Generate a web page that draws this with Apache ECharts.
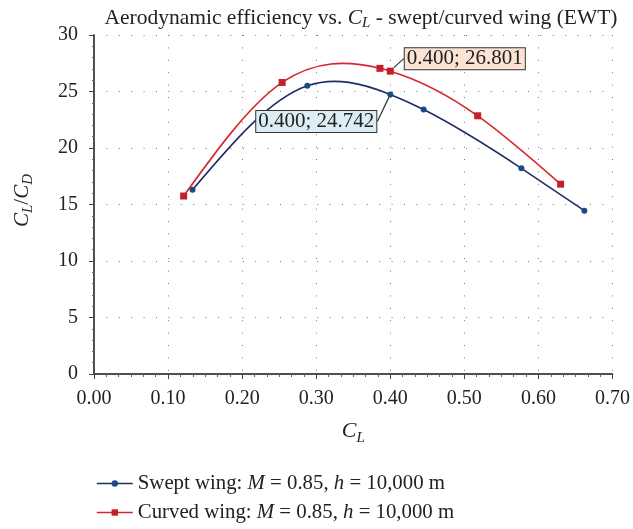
<!DOCTYPE html>
<html>
<head>
<meta charset="utf-8">
<script src="https://cdn.jsdelivr.net/npm/echarts@6/dist/echarts.min.js"></script>
<style>html,body{margin:0;padding:0;background:#fff}#c{width:633px;height:529px}</style>
</head>
<body>
<div id="c"></div>
<script>
var sweptCL = [0.133, 0.288, 0.400, 0.445, 0.577, 0.662];
var sweptEff = [16.3, 25.5, 24.742, 23.4, 18.2, 14.45];
var curvedCL = [0.121, 0.254, 0.386, 0.400, 0.518, 0.630];
var curvedEff = [15.75, 25.8, 27.05, 26.801, 22.85, 16.8];
var xTicks = [0, 0.1, 0.2, 0.3, 0.4, 0.5, 0.6, 0.7];
var yTicks = [0, 5, 10, 15, 20, 25, 30];
var seriesNames = ['Swept wing', 'Curved wing'];

var FONT = 'Liberation Serif';
var SWEPT_LINE = '#1f2d66', CURVED_LINE = '#d6262e';
var chart = echarts.init(document.getElementById('c'), null, {renderer: 'canvas'});

function buildData(xs, ys, labelX, bg) {
  return xs.map(function (x, i) {
    var item = {value: [x, ys[i]]};
    if (x === labelX) {
      item.label = {
        show: true,
        formatter: function (p) { return p.value[0].toFixed(3) + '; ' + p.value[1].toFixed(3); },
        backgroundColor: bg,
        borderColor: '#333',
        borderWidth: 1,
        padding: [1, 2, 0, 2],
        lineHeight: 20,
        color: '#222',
        fontFamily: FONT,
        fontSize: 21
      };
    }
    return item;
  });
}

// knot slopes of a natural cubic spline y(x) through the data
function splineSlopes(xs, ys) {
  var n = xs.length - 1, h = [], M = [], i;
  for (i = 0; i < n; i++) h.push(xs[i + 1] - xs[i]);
  var a = [], b = [], c = [], r = [];
  for (i = 1; i < n; i++) {
    a.push(h[i - 1]); b.push(2 * (h[i - 1] + h[i])); c.push(h[i]);
    r.push(6 * ((ys[i + 1] - ys[i]) / h[i] - (ys[i] - ys[i - 1]) / h[i - 1]));
  }
  var k = b.length;
  for (i = 1; i < k; i++) {
    var w = a[i] / b[i - 1];
    b[i] -= w * c[i - 1]; r[i] -= w * r[i - 1];
  }
  var inner = new Array(k);
  for (i = k - 1; i >= 0; i--) inner[i] = (r[i] - (i < k - 1 ? c[i] * inner[i + 1] : 0)) / b[i];
  M = [0].concat(inner, [0]);
  var m = [];
  for (i = 0; i < n; i++) m.push((ys[i + 1] - ys[i]) / h[i] - h[i] * (2 * M[i] + M[i + 1]) / 6);
  m.push((ys[n] - ys[n - 1]) / h[n - 1] + h[n - 1] * (M[n - 1] + 2 * M[n]) / 6);
  return m;
}

// Spline drawn exactly as cubic Bezier segments, mapped through the axes' coord conversion
function curveSeries(xs, ys, color) {
  var m = splineSlopes(xs, ys);
  return {
    type: 'custom', silent: true, z: 2,
    data: [[xs[0], ys[0]]],
    renderItem: function (params, api) {
      var children = [];
      for (var j = 0; j < xs.length - 1; j++) {
        var hh = (xs[j + 1] - xs[j]) / 3;
        var p0 = api.coord([xs[j], ys[j]]);
        var c1 = api.coord([xs[j] + hh, ys[j] + m[j] * hh]);
        var c2 = api.coord([xs[j + 1] - hh, ys[j + 1] - m[j + 1] * hh]);
        var p1 = api.coord([xs[j + 1], ys[j + 1]]);
        children.push({
          type: 'bezierCurve',
          shape: {x1: p0[0], y1: p0[1], x2: p1[0], y2: p1[1],
            cpx1: c1[0], cpy1: c1[1], cpx2: c2[0], cpy2: c2[1]},
          style: {stroke: color, lineWidth: 1.6, fill: null}
        });
      }
      return {type: 'group', children: children};
    }
  };
}

var frameLine = {show: true, lineStyle: {color: '#444', width: 1.5}};
var gridLine = {show: true, lineStyle: {color: '#777', width: 1, type: [1, 11.4]}};

var option = {
  backgroundColor: '#fff',
  animation: false,
  title: {
    text: '{t|Aerodynamic efficiency vs. }{i|C}{s|L}{t| - swept/curved wing (EWT)}',
    left: 356, top: 0, textAlign: 'center',
    textStyle: {
      rich: {
        t: {fontFamily: FONT, fontSize: 21.5, fontWeight: 'normal', color: '#222'},
        i: {fontFamily: FONT, fontSize: 21.5, fontWeight: 'normal', fontStyle: 'italic', color: '#222'},
        s: {fontFamily: FONT, fontSize: 15, fontWeight: 'normal', fontStyle: 'italic', color: '#222', padding: [11, 0, 0, 0]}
      }
    }
  },
  grid: {left: 94, right: 17, top: 35, bottom: 155, containLabel: false},
  legend: {
    orient: 'vertical', left: 94, top: 471, itemGap: 8, itemWidth: 36, itemHeight: 8,
    padding: 2,
    data: [
      {name: seriesNames[0], lineStyle: {color: SWEPT_LINE, width: 1.6, opacity: 1}},
      {name: seriesNames[1], lineStyle: {color: CURVED_LINE, width: 1.6, opacity: 1}}
    ],
    formatter: function (n) {
      var a = n === 'Swept wing' ? 'Swept wing: ' : 'Curved wing: ';
      return '{t|' + a + '}{i|M}{t| = 0.85, }{i|h}{t| = 10,000 m}';
    },
    textStyle: {
      rich: {
        t: {fontFamily: FONT, fontSize: 20.8, lineHeight: 24, color: '#222'},
        i: {fontFamily: FONT, fontSize: 20.8, lineHeight: 24, fontStyle: 'italic', color: '#222'}
      }
    }
  },
  xAxis: [{
    type: 'value', min: 0, max: 0.7, interval: 0.1,
    name: '{i|C}{s|L}', nameLocation: 'middle', nameGap: 43, nameMoveOverlap: false,
    nameTextStyle: {rich: {
      i: {fontFamily: FONT, fontSize: 22, fontStyle: 'italic', color: '#222'},
      s: {fontFamily: FONT, fontSize: 15, fontStyle: 'italic', color: '#222', padding: [14, 0, 0, 0]}
    }},
    axisLine: frameLine,
    axisTick: {show: true, inside: false, length: 5, lineStyle: {color: '#444'}},
    minorTick: {show: true, splitNumber: 6, length: 3, lineStyle: {color: '#666'}},
    axisLabel: {fontFamily: FONT, fontSize: 20, color: '#222', margin: 15,
      formatter: function (v) { return v.toFixed(2); }},
    splitLine: gridLine
  }, {
    type: 'value', min: 0, max: 0.7, interval: 0.1, position: 'top',
    axisLine: frameLine,
    axisTick: {show: true, inside: true, length: 4, lineStyle: {color: '#444'}},
    minorTick: {show: true, splitNumber: 6, length: 2, lineStyle: {color: '#666'}},
    axisLabel: {show: false}, splitLine: {show: false}
  }],
  yAxis: [{
    type: 'value', min: 0, max: 30, interval: 5,
    name: '{i|C}{s|L}{t|/}{i|C}{s|D}', nameLocation: 'middle', nameGap: 58, nameRotate: 90,
    nameMoveOverlap: false,
    nameTextStyle: {padding: [0, 0, 0, 8], rich: {
      i: {fontFamily: FONT, fontSize: 21, fontStyle: 'italic', color: '#222'},
      t: {fontFamily: FONT, fontSize: 21, color: '#222'},
      s: {fontFamily: FONT, fontSize: 15, fontStyle: 'italic', color: '#222', padding: [13, 0, 0, 0]}
    }},
    axisLine: frameLine,
    axisTick: {show: true, inside: false, length: 5, lineStyle: {color: '#444'}},
    minorTick: {show: false},
    axisLabel: {fontFamily: FONT, fontSize: 20, color: '#222', margin: 16},
    splitLine: gridLine
  }, {
    type: 'value', min: 0, max: 30, interval: 5, position: 'right',
    axisLine: frameLine,
    axisTick: {show: true, inside: true, length: 4, lineStyle: {color: '#444'}},
    minorTick: {show: true, splitNumber: 5, length: 2, lineStyle: {color: '#666'}},
    axisLabel: {show: false}, splitLine: {show: false}
  }],
  series: [{
    name: seriesNames[0], type: 'line',
    symbol: 'circle', symbolSize: 6,
    itemStyle: {color: '#1d4a86'},
    lineStyle: {color: SWEPT_LINE, width: 1.6, opacity: 0},
    data: buildData(sweptCL, sweptEff, 0.4, '#dbeef5'),
    label: {show: false},
    labelLine: {show: true, lineStyle: {color: '#333', width: 1.2}},
    labelLayout: function (p) {
      if (!p.labelRect) return {};
      return {x: p.rect.x - 71, y: p.rect.y + 30, align: 'center', verticalAlign: 'middle'};
    },
    z: 3
  }, {
    name: seriesNames[1], type: 'line',
    symbol: 'rect', symbolSize: 7,
    itemStyle: {color: '#c4202b'},
    lineStyle: {color: CURVED_LINE, width: 1.6, opacity: 0},
    data: buildData(curvedCL, curvedEff, 0.4, '#fce4d4'),
    label: {show: false},
    labelLine: {show: true, lineStyle: {color: '#333', width: 1.2}},
    labelLayout: function (p) {
      if (!p.labelRect) return {};
      return {x: p.rect.x + 78, y: p.rect.y - 9, align: 'center', verticalAlign: 'middle'};
    },
    z: 4
  },
  curveSeries(sweptCL, sweptEff, SWEPT_LINE),
  curveSeries(curvedCL, curvedEff, CURVED_LINE)
  ]
};
chart.setOption(option);
</script>
</body>
</html>
